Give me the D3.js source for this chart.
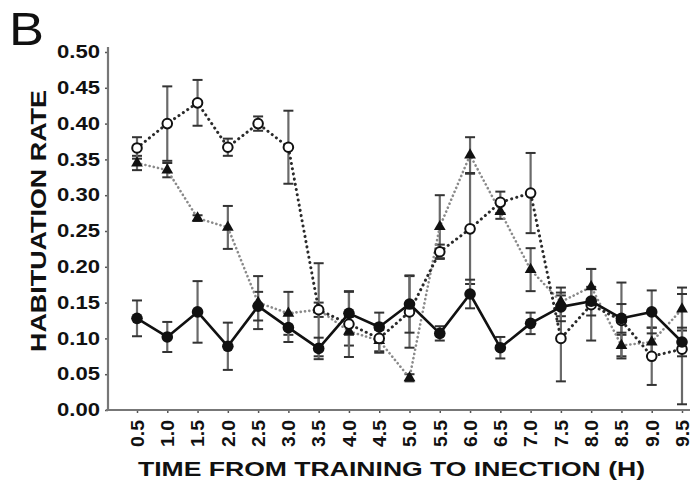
<!DOCTYPE html>
<html>
<head>
<meta charset="utf-8">
<script src="https://cdn.jsdelivr.net/npm/d3@7"></script>
<style>
  html, body { margin: 0; padding: 0; background: #fff; }
  svg { display: block; }
  text { font-family: "Liberation Sans", Arial, sans-serif; }
</style>
</head>
<body>
<svg id="chart" width="692" height="487"></svg>
<script>
// Injection time after training (hours)
const hours = [0.5, 1.0, 1.5, 2.0, 2.5, 3.0, 3.5, 4.0, 4.5, 5.0, 5.5, 6.0, 6.5, 7.0, 7.5, 8.0, 8.5, 9.0, 9.5];

// Control group: solid line, filled circles
const controlMean = [0.128, 0.102, 0.137, 0.089, 0.145, 0.115, 0.086, 0.135, 0.116, 0.148, 0.107, 0.162, 0.087, 0.121, 0.144, 0.152, 0.128, 0.137, 0.095];
const controlErr  = [0.025, 0.021, 0.043, 0.033, 0.020, 0.020, 0.015, 0.030, 0.020, 0.040, 0.010, 0.020, 0.015, 0.015, 0.020, 0.020, 0.020, 0.030, 0.020];

// Open circles, dark dotted line
const openMean = [0.366, 0.400, 0.429, 0.367, 0.400, 0.367, 0.140, 0.120, 0.100, 0.137, 0.221, 0.253, 0.290, 0.303, 0.100, 0.147, 0.125, 0.075, 0.085];
const openErr  = [0.015, 0.052, 0.032, 0.012, 0.010, 0.051, 0.065, 0.046, 0.020, 0.050, 0.010, 0.077, 0.015, 0.056, 0.060, 0.050, 0.053, 0.040, 0.077];

// Filled triangles, grey dotted line
const triMean = [0.345, 0.335, 0.268, 0.255, 0.150, 0.135, 0.140, 0.110, 0.097, 0.045, 0.256, 0.356, 0.277, 0.196, 0.151, 0.172, 0.090, 0.095, 0.141];
const triErr  = [0.010, 0.010, 0.004, 0.030, 0.037, 0.030, 0.010, 0.020, 0.015, 0.005, 0.044, 0.025, 0.010, 0.030, 0.020, 0.025, 0.015, 0.020, 0.030];

const yTicks = [0, 0.05, 0.10, 0.15, 0.20, 0.25, 0.30, 0.35, 0.40, 0.45, 0.50];

const xTitle = "TIME FROM TRAINING TO INECTION (H)";
const yTitle = "HABITUATION RATE";
const panelLabel = "B";

const svg = d3.select("#chart");

const x = d3.scaleLinear().domain([0.5, 9.5]).range([137, 682]);
const y = d3.scaleLinear().domain([0, 0.5]).range([410, 52]);

const axisX0 = 108;      // y-axis position
const axisY0 = y(0);     // x-axis position

// ---- axes ----
const yAxis = svg.append("g")
  .attr("transform", `translate(${axisX0},0)`)
  .call(d3.axisLeft(y).tickValues(yTicks).tickFormat(d3.format(".2f")).tickSize(3).tickSizeOuter(0).tickPadding(5));
yAxis.select(".domain").remove();
yAxis.selectAll(".tick line").attr("stroke", "#555").attr("stroke-width", 1.5);
yAxis.selectAll(".tick text")
  .attr("fill", "#111")
  .style("font-size", "18px").style("font-weight", "bold")
  .attr("textLength", 43).attr("lengthAdjust", "spacingAndGlyphs");

const xAxis = svg.append("g")
  .attr("transform", `translate(0,${axisY0})`)
  .call(d3.axisBottom(x).tickValues(hours).tickFormat(d3.format(".1f")).tickSize(3).tickSizeOuter(0));
xAxis.select(".domain").remove();
xAxis.selectAll(".tick line").attr("stroke", "#555").attr("stroke-width", 1.5);
xAxis.selectAll(".tick text")
  .attr("fill", "#111")
  .style("font-size", "19px").style("font-weight", "bold")
  .attr("text-anchor", "end")
  .attr("x", 0).attr("y", 0).attr("dy", "0.33em")
  .attr("transform", "translate(0,10) rotate(-90)")
  .attr("textLength", 27).attr("lengthAdjust", "spacingAndGlyphs");

// axis lines
svg.append("line")
  .attr("x1", axisX0).attr("x2", axisX0).attr("y1", y(0.5) - 5).attr("y2", axisY0)
  .attr("stroke", "#777").attr("stroke-width", 2.2);
svg.append("line")
  .attr("x1", axisX0 - 2).attr("x2", x(9.5) + 8).attr("y1", axisY0).attr("y2", axisY0)
  .attr("stroke", "#777").attr("stroke-width", 2.2);

// ---- titles ----
svg.append("text")
  .attr("x", 138).attr("y", 476)
  .style("font-size", "21px").style("font-weight", "bold").attr("fill", "#111")
  .attr("textLength", 507).attr("lengthAdjust", "spacingAndGlyphs")
  .text(xTitle);

svg.append("text")
  .attr("transform", "translate(46,352) rotate(-90)")
  .style("font-size", "22px").style("font-weight", "bold").attr("fill", "#111")
  .attr("textLength", 262).attr("lengthAdjust", "spacingAndGlyphs")
  .text(yTitle);

svg.append("text")
  .attr("x", 9).attr("y", 45)
  .style("font-size", "46px").attr("fill", "#111")
  .attr("textLength", 35).attr("lengthAdjust", "spacingAndGlyphs")
  .text(panelLabel);

// ---- series ----
const series = [
  { name: "tri", mean: triMean, err: triErr, marker: "triangle",
    line: { stroke: "#8a8a8a", width: 2.6, dash: "0.1,4.2" } },
  { name: "open", mean: openMean, err: openErr, marker: "open",
    line: { stroke: "#2a2a2a", width: 3, dash: "0.1,5.2" } },
  { name: "control", mean: controlMean, err: controlErr, marker: "filled",
    line: { stroke: "#111", width: 2.6, dash: null } }
];

const capW = 5;

// error bars
series.forEach(s => {
  const g = svg.append("g").attr("class", "err-" + s.name);
  hours.forEach((h, i) => {
    const cx = x(h), top = y(s.mean[i] + s.err[i]), bot = y(s.mean[i] - s.err[i]);
    g.append("line").attr("x1", cx).attr("x2", cx).attr("y1", top).attr("y2", bot)
      .attr("stroke", "#6a6a6a").attr("stroke-width", 2.2);
    [top, bot].forEach(yy => g.append("line")
      .attr("x1", cx - capW).attr("x2", cx + capW).attr("y1", yy).attr("y2", yy)
      .attr("stroke", "#333").attr("stroke-width", 2));
  });
});

// connecting lines
const lineGen = d3.line().x((d, i) => x(hours[i])).y(d => y(d));
series.forEach(s => {
  const p = svg.append("path")
    .attr("d", lineGen(s.mean))
    .attr("fill", "none")
    .attr("stroke", s.line.stroke)
    .attr("stroke-width", s.line.width)
    .attr("stroke-linejoin", "round")
    .attr("stroke-linecap", "round");
  if (s.line.dash) p.attr("stroke-dasharray", s.line.dash);
});

// markers
const triSym = d3.symbol().type(d3.symbolTriangle).size(60);
series.forEach(s => {
  const g = svg.append("g").attr("class", "pts-" + s.name);
  hours.forEach((h, i) => {
    const cx = x(h), cy = y(s.mean[i]);
    if (s.marker === "triangle") {
      g.append("path").attr("d", triSym()).attr("transform", `translate(${cx},${cy})`)
        .attr("fill", "#111");
    } else if (s.marker === "open") {
      g.append("circle").attr("cx", cx).attr("cy", cy).attr("r", 4.8)
        .attr("fill", "#fff").attr("stroke", "#111").attr("stroke-width", 2);
    } else {
      g.append("circle").attr("cx", cx).attr("cy", cy).attr("r", 5.8)
        .attr("fill", "#111");
    }
  });
});
</script>
</body>
</html>
